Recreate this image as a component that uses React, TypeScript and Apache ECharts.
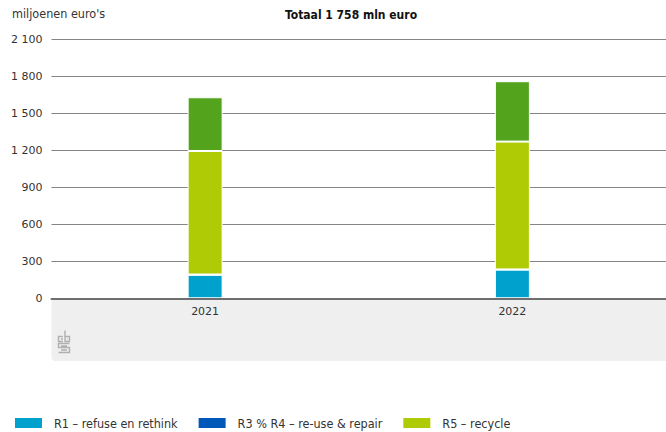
import React, { useEffect, useRef } from "react";
import * as echarts from "echarts";

const categories = ["2021", "2022"];
const r1Refuse = [190, 232];
const r3r4Reuse = [3, 2];
const r5Recycle = [1000, 1035];
const overig = [435, 489];
const yTicks = [0, 300, 600, 900, 1200, 1500, 1800, 2100];

const seriesNames = [
  "R1 – refuse en rethink",
  "R3 % R4 – re-use & repair",
  "R5 – recycle",
  "Overig",
];

const NARROW = '"DejaVu Sans Condensed", "Liberation Sans Narrow", "Noto Sans", sans-serif';
const DEJAVU = '"DejaVu Sans", sans-serif';

let registered = false;
function registerLogo() {
  if (registered) return;
  registered = true;
  const d =
    "M5 6.5 H0.5 V11.5 H5 M7 0.5 V11.5 H11.5 V6.5 H7 M11.5 13.5 H0.5 V17.5 H11.5 V22.5 H0.5 M3 9 H5 M9 9 H9.5 M3 16 H9 M3 20 H9";
  echarts.graphic.registerShape("cbslogo", echarts.graphic.extendPath(d, {}) as any);
}

export default function App() {
  const ref = useRef<HTMLDivElement>(null);
  useEffect(() => {
    document.body.style.margin = "0";
    registerLogo();
    const chart = echarts.init(ref.current!, undefined, { renderer: "svg" });
    const colors = ["#00a1cd", "#0058b8", "#afcb05", "#53a31d"];
    const values = [r1Refuse, r3r4Reuse, r5Recycle, overig];
    chart.setOption({
      animation: false,
      backgroundColor: "#ffffff",
      grid: { left: 51.5, top: 39, width: 622, height: 259.3, containLabel: false },
      xAxis: {
        type: "category",
        data: categories,
        axisLine: { show: true, lineStyle: { color: "#6e6e6e", width: 2 } },
        axisTick: { show: false },
        axisLabel: { color: "#333333", fontFamily: DEJAVU, fontSize: 11, margin: 8 },
        z: 5,
      },
      yAxis: {
        type: "value",
        min: yTicks[0],
        max: yTicks[yTicks.length - 1],
        interval: 300,
        axisLine: { show: false },
        axisTick: { show: false },
        axisLabel: {
          color: "#333333",
          fontFamily: DEJAVU,
          fontSize: 11,
          margin: 9,
          formatter: (v: number) => (v >= 1000 ? `${Math.floor(v / 1000)} ${String(v % 1000).padStart(3, "0")}` : String(v)),
        },
        splitLine: { show: true, lineStyle: { color: "#858585", width: 1 } },
      },
      legend: {
        data: seriesNames.slice(0, 3),
        left: 13,
        top: 416,
        padding: 0,
        itemWidth: 29,
        itemHeight: 12,
        itemGap: 19,
        icon: "rect",
        textStyle: { color: "#333333", fontFamily: NARROW, fontSize: 12.5, padding: [0, 0, 0, 6] },
      },
      series: values.map((vals, i) => ({
        name: seriesNames[i],
        type: "bar",
        stack: "total",
        barWidth: 35,
        data: vals,
        itemStyle: { color: colors[i], borderColor: "#ffffff", borderWidth: 1 },
        z: 3,
      })),
      graphic: [
        {
          type: "rect",
          z: -10,
          silent: true,
          shape: { x: 51.5, y: 299, width: 640, height: 62, r: [0, 0, 0, 4] },
          style: { fill: "#efefef" },
        },
        {
          type: "cbslogo",
          x: 58,
          y: 330,
          z: -5,
          silent: true,
          style: { stroke: "#b0b0b0", fill: "none", lineWidth: 1.4 },
        },
        {
          type: "text",
          left: 12,
          top: 7,
          style: { text: "miljoenen euro's", fill: "#333333", font: `12.5px ${NARROW}` },
        },
        {
          type: "text",
          x: 351,
          y: 15,
          style: {
            text: "Totaal 1 758 mln euro",
            fill: "#111111",
            font: `bold 12px ${NARROW}`,
            textAlign: "center",
            textVerticalAlign: "middle",
          },
        },
      ],
    });
    return () => chart.dispose();
  }, []);
  return <div ref={ref} style={{ width: 666, height: 432 }} />;
}
